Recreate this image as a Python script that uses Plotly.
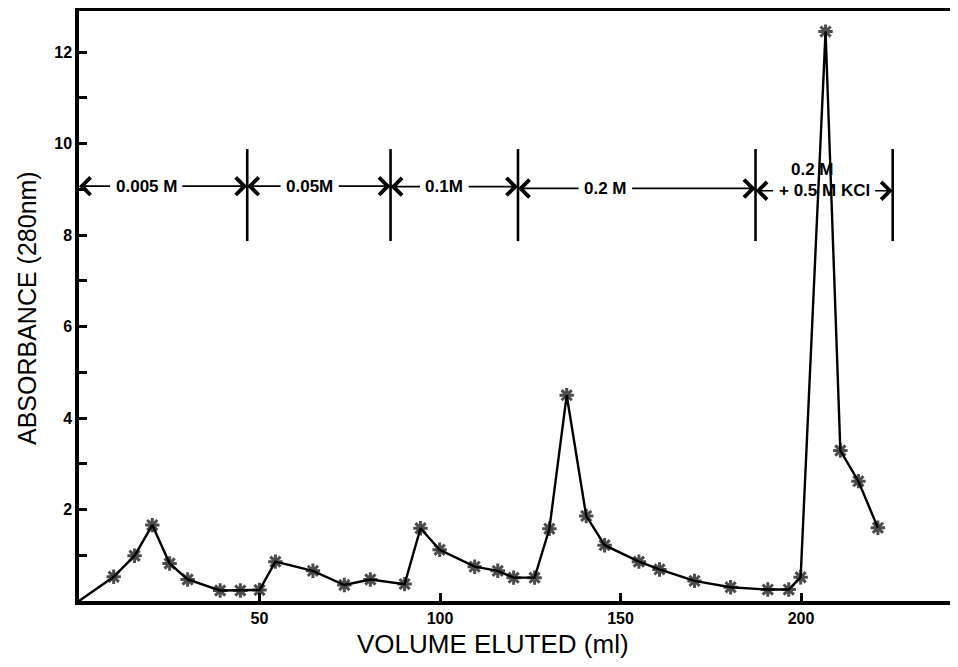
import plotly.graph_objects as go

# ---- data ----
volume_ml = [0, 9.6, 15.4, 20.3, 25.1, 30.1, 39.1, 44.7, 50.0, 54.4, 64.8, 73.5, 80.7,
             90.2, 94.6, 99.9, 109.6, 116.0, 120.4, 126.2, 130.3, 135.1, 140.5, 145.6,
             155.1, 160.8, 170.5, 180.5, 190.8, 196.6, 199.9, 206.8, 210.9, 215.9, 221.3]
absorbance = [0, 0.53, 0.99, 1.66, 0.82, 0.47, 0.23, 0.23, 0.24, 0.86, 0.66, 0.35, 0.47,
              0.37, 1.59, 1.12, 0.75, 0.66, 0.51, 0.51, 1.58, 4.50, 1.86, 1.22,
              0.86, 0.69, 0.44, 0.30, 0.25, 0.25, 0.52, 12.45, 3.29, 2.62, 1.60]

# buffer step boundaries (ml) and labels
step_bounds = [0, 46.6, 86.3, 121.6, 187.4, 225.4]
step_labels = ["0.005 M", "0.05M", "0.1M", "0.2 M", "+ 0.5 M KCl"]
step_label_x = [18.6, 63.9, 101.2, 145.8, 206.4]
step_label_y = [9.07, 9.07, 9.06, 9.02, 8.97]
extra_label = "0.2 M"
extra_label_x = 203.2
extra_label_y = 9.43
bar_low, bar_high = 7.87, 9.88

x_ticks = [50, 100, 150, 200]
y_ticks = [2, 4, 6, 8, 10, 12]
y_minor = [1, 3, 5, 7, 9, 11]

# ---- layout geometry (page body has an 8px default margin on every side) ----
OFF = 8
W, H = 958 - 2 * OFF, 667 - 2 * OFF
ML, MR, MT = 79 - OFF, 0, 11 - OFF
PLOT_BOTTOM = 601 - OFF
MB = H - PLOT_BOTTOM
PX_PER_ML = 3.61
PW = W - ML - MR
PH = H - MT - MB
XR = [0, PW / PX_PER_ML]
YR = [0, 12.9]
px_per_x = PW / (XR[1] - XR[0])

LBL_SIZE = 17
char_w = {"0": .556, "1": .556, "2": .556, "5": .556, ".": .278, " ": .278, "M": .833,
          "K": .722, "C": .722, "l": .278, "+": .584}


def text_half_width_px(t):
    return sum(char_w.get(c, .6) for c in t) * LBL_SIZE / 2


def paper_x(px_ref):
    return (px_ref - OFF - ML) / PW


def paper_y(py_ref):
    return (PLOT_BOTTOM - (py_ref - OFF)) / PH


fig = go.Figure()
fig.add_trace(go.Scatter(
    x=volume_ml, y=absorbance, mode="lines+markers",
    line=dict(color="black", width=2.4),
    marker=dict(symbol="asterisk-open", size=[0] + [12] * (len(volume_ml) - 1),
                color="black", line=dict(color="black", width=3)),
    cliponaxis=False, hoverinfo="skip",
))

shapes = []
for b in step_bounds[1:]:
    shapes.append(dict(type="line", xref="x", yref="y", x0=b, x1=b, y0=bar_low, y1=bar_high,
                       line=dict(color="black", width=2.6)))

annotations = []
lbl_font = dict(family="Liberation Sans", size=LBL_SIZE, color="black")
for i, lab in enumerate(step_labels):
    cx, cy = step_label_x[i], step_label_y[i]
    hw = (text_half_width_px(lab) + 4) / px_per_x
    annotations.append(dict(x=cx, y=cy, xref="x", yref="y", text="<b>" + lab + "</b>",
                            showarrow=False, font=lbl_font, xanchor="center", yanchor="middle"))
    for tip, tail in ((step_bounds[i], cx - hw), (step_bounds[i + 1], cx + hw)):
        annotations.append(dict(x=tip, y=cy, ax=tail, ay=cy, xref="x", yref="y",
                                axref="x", ayref="y", text="", showarrow=True, arrowhead=4,
                                arrowsize=2.0, arrowwidth=1.7, arrowcolor="black", standoff=0))
annotations.append(dict(x=extra_label_x, y=extra_label_y, xref="x", yref="y",
                        text="<b>" + extra_label + "</b>", showarrow=False, font=lbl_font,
                        xanchor="center", yanchor="middle"))

annotations.append(dict(text="ABSORBANCE (280nm)", xref="paper", yref="paper",
                        x=paper_x(27), y=paper_y(308),
                        textangle=-90, showarrow=False,
                        font=dict(family="Liberation Sans", size=25, color="black"),
                        xanchor="center", yanchor="middle"))
annotations.append(dict(text="VOLUME ELUTED (ml)", xref="paper", yref="paper",
                        x=paper_x(493), y=paper_y(643.5),
                        showarrow=False,
                        font=dict(family="Liberation Sans", size=26, color="black"),
                        xanchor="center", yanchor="middle"))

tick_font = dict(family="Liberation Sans", size=16, color="black", weight="bold")
fig.update_layout(
    width=W, height=H,
    margin=dict(l=ML, r=MR, t=MT, b=MB, pad=0, autoexpand=False),
    paper_bgcolor="white", plot_bgcolor="white",
    showlegend=False,
    shapes=shapes,
    annotations=annotations,
    xaxis=dict(range=XR, tickvals=x_ticks, ticks="inside", ticklen=8, tickwidth=2.5,
               tickcolor="black", showline=True, linecolor="black", linewidth=3.5,
               mirror=True, showgrid=False, zeroline=False, tickfont=tick_font),
    yaxis=dict(range=YR, tickvals=y_ticks, ticks="inside", ticklen=8, tickwidth=2.5,
               tickcolor="black", showline=True, linecolor="black", linewidth=3.5,
               mirror=False, showgrid=False, zeroline=False, tickfont=tick_font,
               minor=dict(tickvals=y_minor, ticks="inside", ticklen=8, tickwidth=2.5,
                          tickcolor="black", showgrid=False)),
)

fig.write_html("out.html")
